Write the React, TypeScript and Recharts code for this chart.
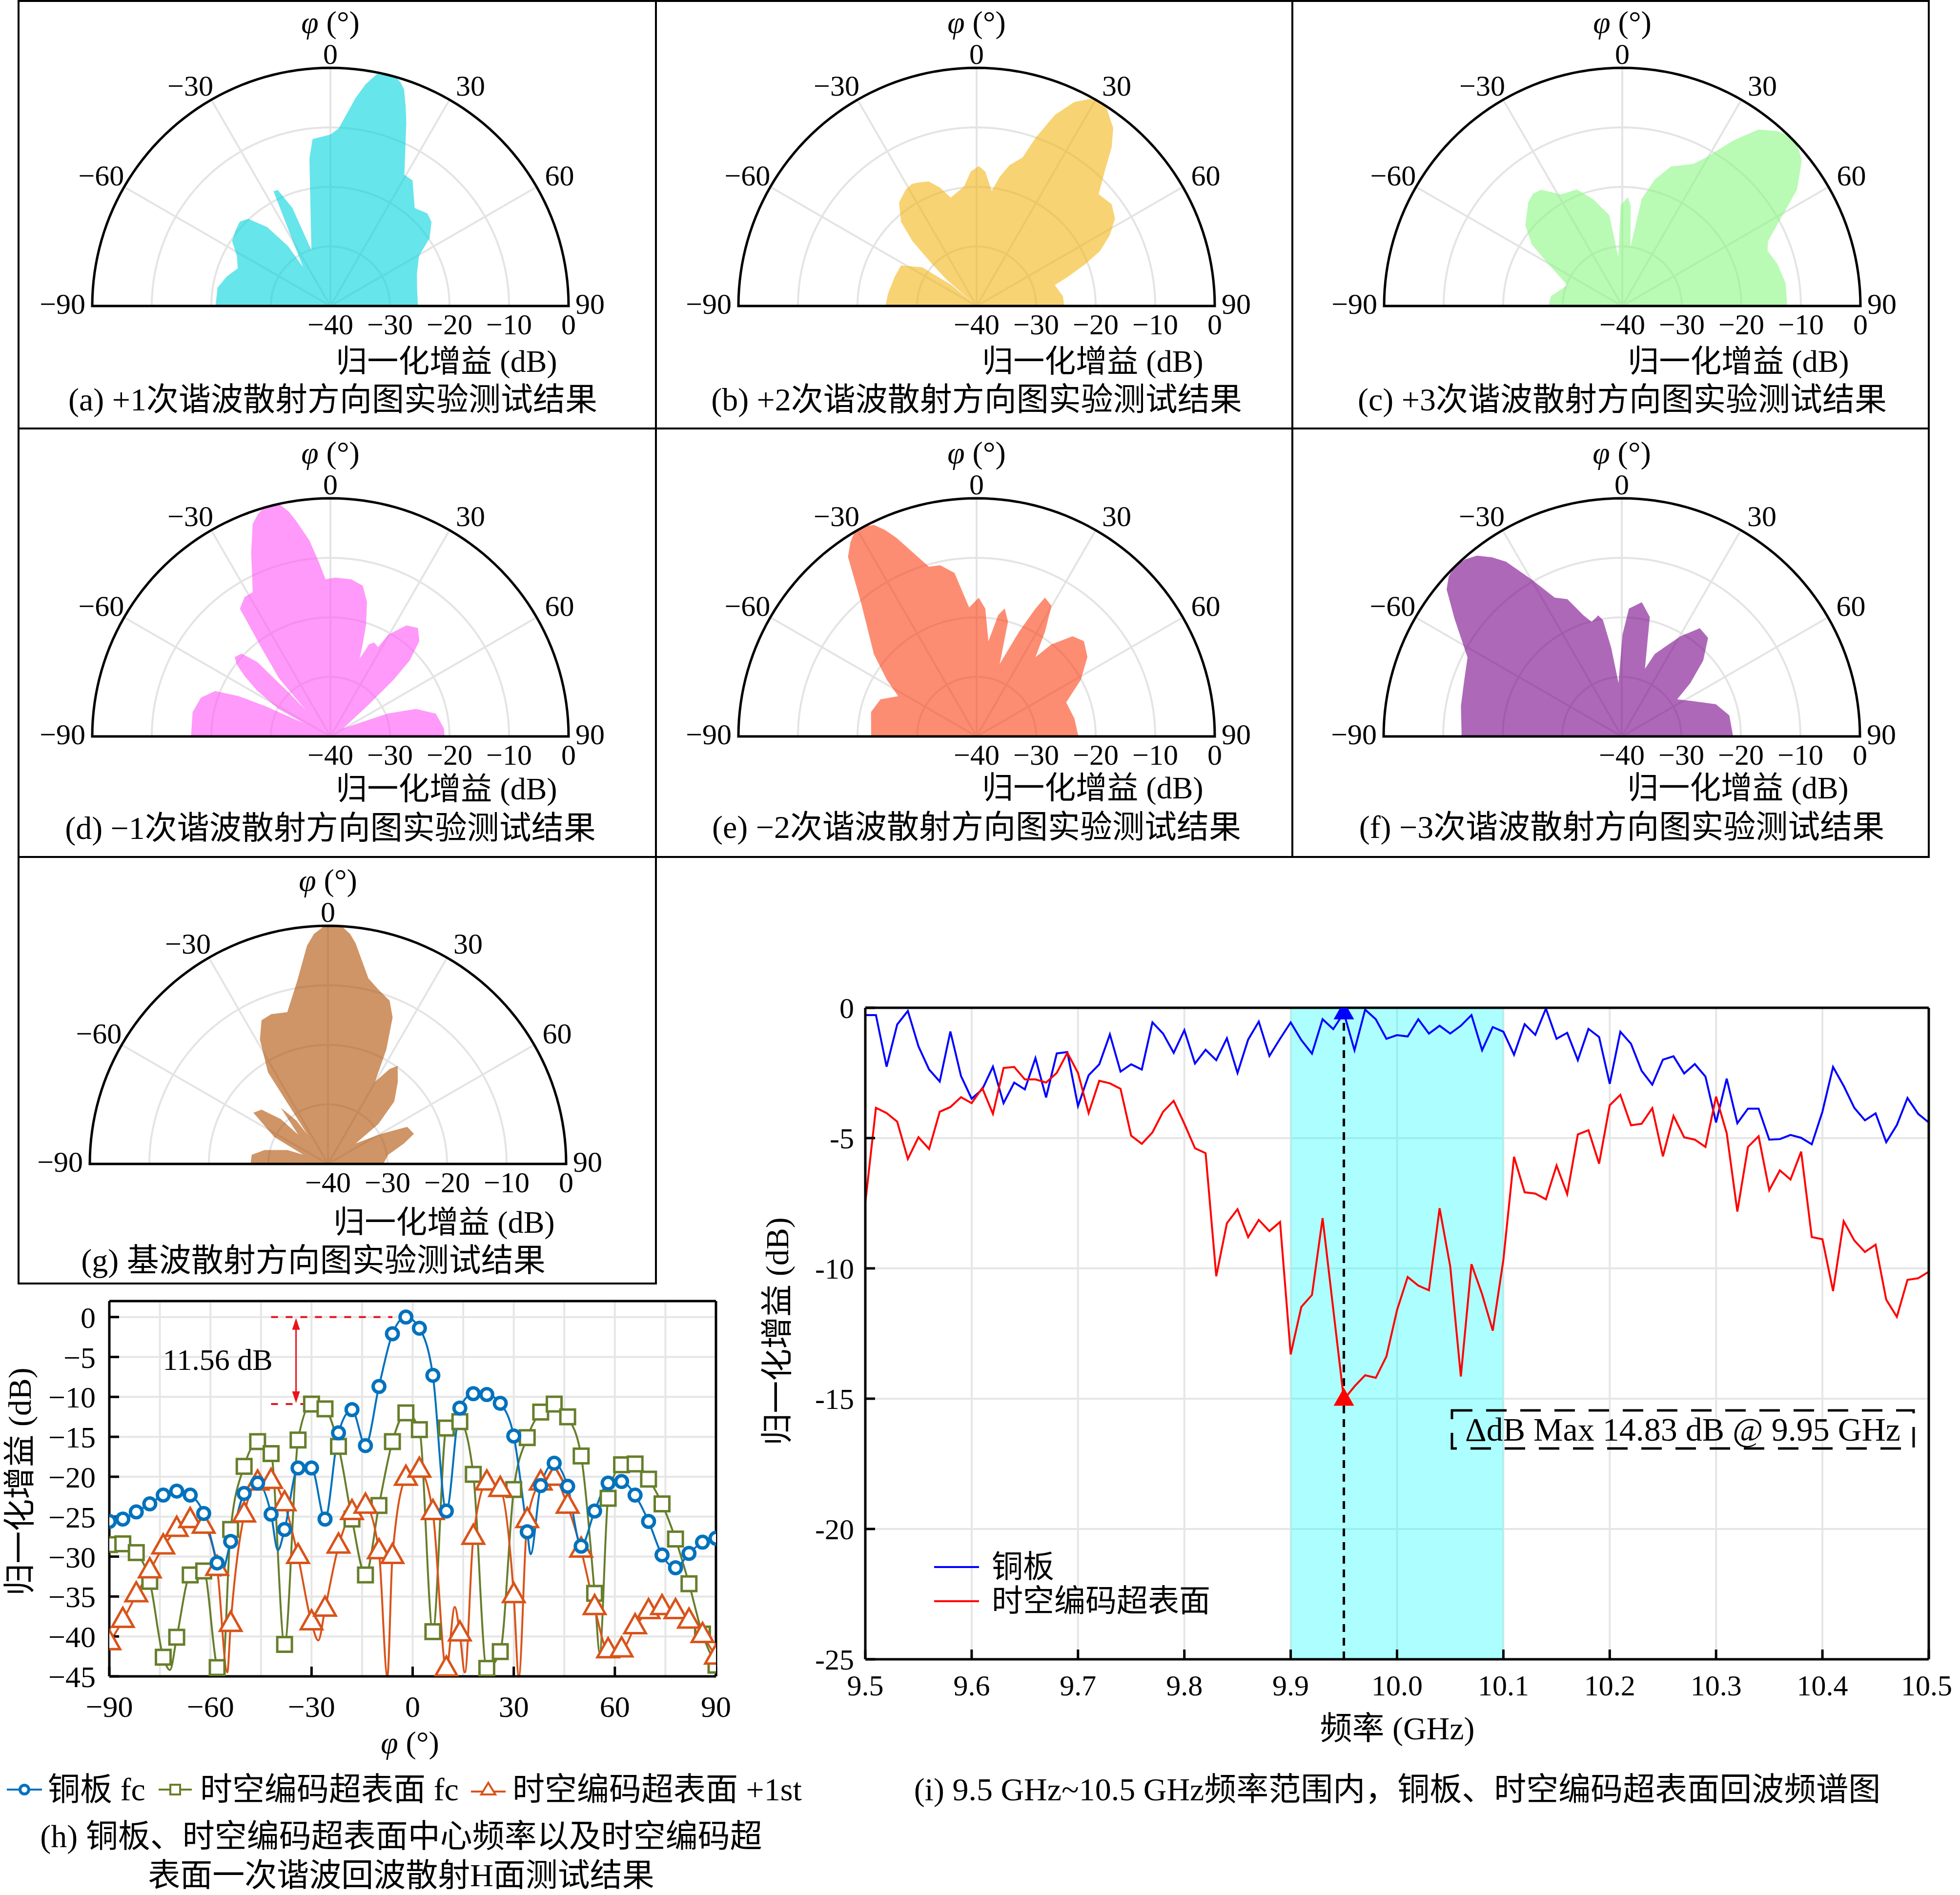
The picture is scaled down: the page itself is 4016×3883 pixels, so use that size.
import React from 'react';
import {
  RadarChart, Radar, PolarGrid, PolarAngleAxis, PolarRadiusAxis,
  LineChart, Line, XAxis, YAxis, CartesianGrid, ReferenceArea, ReferenceLine, ReferenceDot,
} from 'recharts';

const FONT = "'Liberation Serif','Noto Sans CJK SC',serif";

// ---------------- polar pattern data (angle in deg, normalized gain in dB) ----------------
const A_ANG = [-90, -80.7, -74.1, -67.9, -61.9, -56.5, -51.3, -47, -43.3, -38.7, -35.3, -35.1, -26.4, -24.4, -21.2, -18.8, -8.1, -6.1, 0, 2.7, 6.9, 9, 11.3, 13.5, 15.9, 17.5, 18.8, 20.6, 22.5, 29.4, 33.2, 40.7, 46.3, 50.2, 55.6, 60.5, 69.6, 79.8, 90];
const A_VAL = [-20.7, -20.8, -21.9, -23.2, -22.2, -20.2, -19.6, -19.2, -19.9, -23.0, -27.7, -32, -18.5, -18.6, -22.3, -30.1, -15, -11.8, -11.2, -10.1, -4.8, -2.3, -0.3, 0, 0, -0.7, -1.6, -4.1, -6.7, -14.7, -14.8, -18.3, -17.5, -17.9, -19.8, -22.9, -24.5, -25.2, -25.3];

const B_ANG = [-90, -81.7, -70.4, -61.8, -54.5, -50.2, -49.5, -48.5, -46.7, -44.7, -41.9, -36.9, -31.2, -28, -25, -21, -17.2, -13.4, -5.9, -2.5, 0.9, 3.7, 7.5, 10.2, 13.2, 17.2, 19.3, 22.3, 25.6, 28.8, 31, 33.4, 37.5, 40.4, 43.4, 47.5, 53, 57.7, 61.9, 66, 68.9, 72.3, 75, 83.6, 90];
const B_VAL = [-24.7, -25.0, -25.4, -25.6, -28.8, -34.5, -39, -33, -29.7, -24.7, -21.0, -18.3, -17.1, -16.8, -17.1, -17.6, -19.2, -21.3, -19.8, -17.4, -16.5, -17.4, -20.5, -17.9, -15.7, -13.9, -10.1, -5.3, -2.0, -0.3, 0, -0.3, -2.3, -5.0, -8.6, -12.2, -11.6, -12.5, -14.6, -17.3, -20.4, -23.9, -26.4, -25.4, -25.3];

const C_ANG = [-90, -82.2, -75.3, -69.1, -61.4, -55.8, -50.2, -42.2, -38.5, -34.9, -28.8, -21.3, -15.3, -8.1, -4.6, -0.9, 2.9, 4.8, 7.9, 10.3, 14.4, 19.2, 26.6, 29.5, 33.7, 37.6, 41.6, 43.8, 46.1, 48.5, 51, 56.3, 59.9, 66, 69.2, 74.8, 82.1, 90];
const C_VAL = [-27.6, -27.9, -29.3, -30.1, -26.4, -21.6, -18.8, -16.5, -15.9, -16.2, -18.6, -19.0, -21.4, -24.6, -31.8, -23.1, -21.7, -23.1, -30.1, -21.7, -18.1, -15.2, -13.3, -11.3, -6.7, -2.6, -0.7, -0.2, 0, -0.4, -1.2, -4.7, -8.5, -13.2, -13.9, -13.0, -12.3, -12.3];

const D_ANG = [-90, -80, -73.3, -68.5, -66.3, -65, -64.3, -63.5, -62, -58, -55, -52.5, -50.3, -47, -44.5, -43.5, -43, -41.5, -38, -35.3, -31.6, -28.3, -23.4, -20.1, -18, -16.2, -14, -12.2, -10.5, -9, -6.1, -3.7, -1.8, 1.8, 7.6, 12.1, 15.2, 17.7, 19.3, 20.6, 22.8, 25, 28, 29.7, 34.4, 38.9, 43, 46.2, 48.1, 50.4, 58, 64.8, 68.2, 72.2, 77.8, 85.9, 90];
const D_VAL = [-16.6, -16.5, -17.3, -19.2, -23.1, -28, -33, -35, -30, -25.5, -22.5, -20.2, -19.1, -19.6, -22.5, -30, -34, -27, -21.4, -13.7, -12.5, -12.5, -6.5, -2.0, -0.7, 0, 0, -0.2, -1.6, -3.4, -6.9, -10.8, -13.6, -13.3, -13.4, -14.1, -16.6, -20.3, -23.6, -26.1, -23.2, -22.6, -23, -20.3, -17.4, -16.6, -18.1, -21.5, -25.7, -31.9, -37.5, -34.9, -29.7, -24.9, -21.9, -20.9, -20.8];

const E_ANG = [-90, -77, -68.9, -62.8, -57.8, -51.3, -40.8, -35.6, -33, -30.8, -28.2, -25.9, -24, -22, -15.7, -12, -7.7, -3.3, 0.9, 3.9, 7.1, 10.1, 12.4, 15.3, 17.7, 22.1, 24.7, 26.2, 29.8, 33.1, 36.6, 39.1, 43.8, 48.4, 54.4, 61.5, 69.2, 79.7, 90];
const E_VAL = [-22.3, -21.8, -22.7, -25.2, -22.2, -17.9, -10.3, -2.9, -1.1, 0, 0, -0.5, -2.0, -4.0, -10.4, -10.6, -12.3, -18.3, -16.7, -18.5, -23.9, -19.3, -18.0, -20.0, -27.2, -21.0, -16.4, -14.0, -14.7, -18.9, -23.4, -20.1, -16.7, -15.9, -17.1, -20.1, -23.9, -23.3, -22.9];

const F_ANG = [-90, -79.2, -70.3, -62.9, -54.8, -50, -47.2, -44.6, -41.5, -38.7, -36, -33.5, -29.8, -25.8, -21.6, -17.5, -14.7, -11, -9.2, -6.8, -3.5, 0.4, 3.2, 8.5, 13.2, 18.9, 21.8, 25.6, 30.4, 35.8, 41.2, 47, 52.1, 56.2, 62.6, 71.1, 78.9, 90];
const F_VAL = [-13.1, -12.5, -11.9, -10.9, -5.6, -1.6, -0.4, 0, -0.3, -1.1, -2.8, -4.8, -9.7, -14.1, -15.2, -18.7, -20.1, -19.3, -20.2, -25.0, -31.0, -22.9, -18.5, -17.2, -19.4, -28.0, -25.1, -23.4, -20.5, -17.6, -18.0, -21.3, -25.4, -28.8, -27.0, -23.3, -21.6, -21.3];

const G_ANG = [-90, -83.2, -77.6, -71, -69.5, -63.3, -55.5, -50.7, -46.4, -45.5, -40, -36, -35, -33.2, -28.7, -24.8, -20.7, -15, -9.6, -5.5, -3.5, -1.2, 1, 3.5, 5.5, 7.1, 12.3, 16.1, 20.7, 23.8, 27, 29.8, 33, 35.4, 40.4, 46.7, 51.6, 53.5, 60.6, 64.9, 70.7, 75, 81.4, 90];
const G_VAL = [-27.0, -27.1, -29.1, -32.8, -35.6, -29.9, -24.8, -25.6, -29.1, -33, -27.7, -31, -34, -21.6, -16.2, -13.4, -13.1, -13.6, -8.9, -3.2, -1.3, -0.2, 0, -0.1, -1.2, -2.6, -8.1, -9.5, -10.7, -13.1, -18.4, -24.1, -21.0, -19.8, -21.9, -24.7, -29.2, -34.2, -29.7, -25.3, -24.7, -26.8, -29.8, -30.7];

const ANGLE_TICK_LABELS = [-90, -60, -30, 0, 30, 60, 90];
const RADIUS_TICKS = [-40, -30, -20, -10, 0];
// dense ticks only used to trace the outer semicircle outline
const OUTLINE_TICKS = Array.from({ length: 91 }, (_, i) => -90 + i * 2);

// ---------------- (h) H-plane data ----------------
const H_BLUE_X = [-90, -86, -82, -78, -74, -70, -66, -62, -58, -57, -54, -50, -46, -42, -40, -38, -34, -30, -26, -22, -18, -14, -10, -6, -2, 2, 6, 10, 14, 18, 22, 26, 30, 34, 35, 38, 42, 46, 50, 54, 58, 62, 66, 70, 74, 78, 82, 86, 90];
const H_BLUE_Y = [-25.6, -25.3, -24.4, -23.4, -22.3, -21.8, -22.3, -24.6, -30.8, -32.4, -28.1, -22.1, -20.8, -24.7, -29.2, -26.6, -18.9, -18.9, -25.3, -14.5, -11.6, -16.1, -8.7, -2.1, 0, -1.4, -7.3, -24.3, -11.4, -9.6, -9.7, -10.8, -14.9, -26.9, -29.7, -21.1, -18.3, -21.2, -28.7, -24.3, -20.8, -20.6, -22.3, -25.6, -29.8, -31.4, -29.6, -28.2, -27.7];
const H_OLIVE_X = [-90, -86, -82, -78, -74, -72, -70, -66, -62, -58, -56.5, -54, -50, -46, -42, -38, -34, -30, -26, -22, -18, -14, -10, -6, -2, 2, 6, 10, 14, 18, 22, 26, 30, 34, 38, 42, 46, 50, 54, 55.5, 58, 62, 66, 70, 74, 78, 82, 86, 90];
const H_OLIVE_Y = [-28.5, -28.4, -29.5, -33.1, -42.6, -44.2, -40.1, -32.3, -31.8, -43.9, -45, -26.6, -18.7, -15.6, -17.1, -41.0, -15.4, -10.9, -11.5, -16.2, -25.3, -32.3, -23.6, -15.6, -12.0, -14.1, -39.4, -13.9, -13.1, -19.7, -44.0, -41.9, -21.6, -15.1, -11.9, -10.9, -12.5, -17.4, -34.6, -42, -22.7, -18.5, -18.4, -20.3, -23.4, -27.8, -33.4, -39.7, -43.6];
const H_ORANGE_X = [-90, -86, -82, -78, -74, -70, -66, -62, -58, -55, -54, -50, -46, -42, -38, -34, -30, -28, -26, -22, -18, -14, -10, -7.5, -6, -2, 2, 6, 10, 12.5, 14, 15.5, 18, 22, 26, 30, 31.5, 34, 38, 42, 46, 50, 54, 58, 62, 66, 70, 74, 78, 82, 86, 90];
const H_ORANGE_Y = [-40.8, -38.0, -34.8, -31.8, -28.8, -26.6, -25.5, -26.2, -31.5, -44.5, -38.5, -24.8, -20.8, -20.6, -23.4, -30.0, -38.3, -40.5, -36.6, -28.7, -24.5, -23.7, -29.4, -45, -30.0, -20.2, -19.2, -24.5, -44.1, -36.3, -39.7, -44.5, -27.6, -20.8, -21.6, -34.9, -45, -25.5, -20.8, -20.2, -23.7, -29.2, -36.4, -41.8, -41.7, -38.8, -36.9, -36.4, -36.9, -38.1, -39.9, -42.6];
const H_X_TICKS = [-90, -60, -30, 0, 30, 60, 90];
const H_X_GRID = [-90, -75, -60, -45, -30, -15, 0, 15, 30, 45, 60, 75, 90];
const H_Y_TICKS = [0, -5, -10, -15, -20, -25, -30, -35, -40, -45];

// ---------------- (i) spectrum data ----------------
const I_FREQ = Array.from({ length: 101 }, (_, i) => +(9.5 + i * 0.01).toFixed(2));
const I_COPPER = [
  -0.28, -0.28, -2.26, -0.64, -0.12, -1.48, -2.37, -2.83, -0.91, -2.62,
  -3.49, -3.13, -2.26, -3.66, -2.87, -3.13, -1.93, -3.44, -1.75, -1.70,
  -3.77, -2.59, -2.17, -1.02, -2.45, -2.17, -2.37, -0.56, -0.99, -1.73,
  -0.86, -2.14, -1.61, -2.01, -1.17, -2.50, -1.22, -0.53, -1.85, -1.19,
  -0.56, -1.24, -1.76, -0.44, -0.82, -0.20, -1.63, -0.07, -0.44, -1.19,
  -1.05, -1.10, -0.44, -0.99, -0.69, -0.99, -0.69, -0.28, -1.63, -0.74,
  -0.92, -1.80, -0.63, -1.04, -0.03, -1.19, -0.96, -2.01, -0.81, -1.12,
  -2.92, -0.92, -1.38, -2.42, -2.95, -1.99, -1.86, -2.52, -2.16, -2.64,
  -4.40, -2.72, -4.43, -3.87, -3.87, -5.06, -5.04, -4.88, -4.99, -5.24,
  -3.99, -2.27, -3.00, -3.84, -4.32, -4.05, -5.16, -4.50, -3.46, -4.07, -4.40,
];
const I_META = [
  -7.48, -3.84, -4.04, -4.37, -5.80, -4.97, -5.42, -3.99, -3.81, -3.43,
  -3.66, -3.08, -4.07, -2.31, -2.27, -2.75, -2.75, -2.87, -2.50, -1.73,
  -2.50, -4.04, -2.80, -2.90, -3.11, -4.91, -5.22, -4.78, -3.99, -3.57,
  -4.45, -5.39, -5.58, -10.30, -8.27, -7.73, -8.80, -8.14, -8.57, -8.22,
  -13.30, -11.48, -11.02, -8.07, -11.56, -15.03, -14.53, -14.10, -14.20, -13.38,
  -11.60, -10.33, -10.66, -10.84, -7.69, -9.92, -14.15, -9.84, -10.99, -12.39,
  -9.67, -5.72, -7.08, -7.13, -7.35, -6.05, -7.15, -4.86, -4.70, -5.98,
  -3.74, -3.34, -4.51, -4.45, -3.85, -5.70, -4.15, -4.97, -5.06, -5.34,
  -3.41, -4.81, -7.82, -5.34, -4.93, -7.00, -6.24, -6.59, -5.52, -8.80,
  -8.88, -10.87, -8.19, -8.93, -9.37, -9.09, -11.20, -11.86, -10.44, -10.38, -10.13,
];
const I_X_TICKS = [9.5, 9.6, 9.7, 9.8, 9.9, 10.0, 10.1, 10.2, 10.3, 10.4, 10.5];
const I_Y_TICKS = [0, -5, -10, -15, -20, -25];
const I_BAND = [9.9, 10.1];
const I_PEAK_F = 9.95;

// ---------------- helpers ----------------
const R = 488;
const minus = (v: number) => (v < 0 ? '\u2212' + Math.abs(v) : String(v));

function T({ x, y, s = 66, a = 'middle', r = 0, children }: any) {
  const tx = a === 'middle' ? '-50%' : a === 'end' ? '-100%' : '0%';
  return (
    <div style={{ position: 'absolute', left: x, top: y, transform: `translate(${tx}, -50%)${r ? ` rotate(${r}deg)` : ''}`, fontSize: s, lineHeight: 1, whiteSpace: 'nowrap', color: '#000' }}>
      {children}
    </div>
  );
}

const Phi = () => (<><span style={{ fontStyle: 'italic' }}>φ</span> (°)</>);

function renderAngleTick(props: any) {
  const { x, y, payload } = props;
  const v = Number(payload.value);
  if (!ANGLE_TICK_LABELS.includes(v)) return <g />;
  const s = Math.sign(v);
  let dx = 0, dy = 0, anchor = 'middle';
  if (v === 0) dy = -21;
  else if (Math.abs(v) === 30) { dx = s * 39; dy = -22; }
  else if (Math.abs(v) === 60) { dx = s * 40; dy = -20; }
  else { dx = s * 6; dy = -5; anchor = v < 0 ? 'end' : 'start'; }
  return (
    <text x={x + dx} y={y + dy} dy="0.35em" textAnchor={anchor} fontSize={60} fontFamily={FONT} fill="#000">
      {minus(v)}
    </text>
  );
}

function renderRadiusTick(props: any) {
  const { x, y, payload } = props;
  return (
    <text x={x} y={y + 37} dy="0.35em" textAnchor="middle" fontSize={60} fontFamily={FONT} fill="#000">
      {minus(Number(payload.value))}
    </text>
  );
}

const SPOKES = ANGLE_TICK_LABELS.map((v) => 90 - v);

function PolarPanel({ p }: any) {
  const [bx, by, bw, bh] = p.box;
  const cx = p.c[0] - bx;
  const cy = p.c[1] - by;
  const data = p.ang.map((a: number, i: number) => ({ ang: a, val: p.val[i] }));
  return (
    <div style={{ position: 'absolute', left: bx, top: by, width: bw, height: bh }}>
      <RadarChart width={bw} height={bh} data={data} cx={cx} cy={cy} outerRadius={R} startAngle={180} endAngle={0} margin={{ top: 0, right: 0, bottom: 0, left: 0 }}>
        <PolarGrid gridType="polygon" radialLines={false} stroke="#e4e4e4" strokeWidth={4} />
        <PolarGrid gridType="polygon" polarAngles={SPOKES} polarRadius={[]} stroke="#e4e4e4" strokeWidth={4} />
        <Radar dataKey="val" stroke="none" fill={p.color} fillOpacity={0.6} isAnimationActive={false} />
        <PolarAngleAxis dataKey="ang" type="number" domain={[-90, 90]} ticks={OUTLINE_TICKS} tickSize={8} tickLine={false}
          axisLineType="polygon" axisLine={{ stroke: '#000', strokeWidth: 5, fill: 'none' }} tick={renderAngleTick} />
        <PolarRadiusAxis angle={0} type="number" domain={[-40, 0]} ticks={RADIUS_TICKS} axisLine={false} tickLine={false} tick={renderRadiusTick} allowDataOverflow />
      </RadarChart>
    </div>
  );
}

const PANELS = [
  { box: [38, 2, 1306, 876], c: [677, 627], ang: A_ANG, val: A_VAL, color: '#00d4de', cap: '(a) +1次谐波散射方向图实验测试结果', ly: 114, cyo: 192, cxo: 5 },
  { box: [1344, 2, 1304, 876], c: [2001, 627], ang: B_ANG, val: B_VAL, color: '#f3b617', cap: '(b) +2次谐波散射方向图实验测试结果', ly: 114, cyo: 192, cxo: 0 },
  { box: [2648, 2, 1304, 876], c: [3324, 627], ang: C_ANG, val: C_VAL, color: '#8af884', cap: '(c) +3次谐波散射方向图实验测试结果', ly: 114, cyo: 192, cxo: 0 },
  { box: [38, 878, 1306, 878], c: [677, 1509], ang: D_ANG, val: D_VAL, color: '#ff55f7', cap: '(d) \u22121次谐波散射方向图实验测试结果', ly: 108, cyo: 188, cxo: 0 },
  { box: [1344, 878, 1304, 878], c: [2001, 1509], ang: E_ANG, val: E_VAL, color: '#fc4114', cap: '(e) \u22122次谐波散射方向图实验测试结果', ly: 106, cyo: 186, cxo: 0 },
  { box: [2648, 878, 1304, 878], c: [3323, 1509], ang: F_ANG, val: F_VAL, color: '#760589', cap: '(f) \u22123次谐波散射方向图实验测试结果', ly: 106, cyo: 186, cxo: 0 },
  { box: [38, 1756, 1306, 874], c: [672, 2385], ang: G_ANG, val: G_VAL, color: '#af4e00', cap: '(g) 基波散射方向图实验测试结果', ly: 120, cyo: 198, cxo: -30 },
];

// ---------------- (h) chart ----------------
const HB = H_BLUE_X.map((x, i) => ({ x, y: H_BLUE_Y[i] }));
const HO = H_OLIVE_X.map((x, i) => ({ x, y: H_OLIVE_Y[i] }));
const HR = H_ORANGE_X.map((x, i) => ({ x, y: H_ORANGE_Y[i] }));
const isMarker = (x: number) => Number.isInteger(x) && (x + 90) % 4 === 0;

const C_BLUE = '#0072bd';
const C_OLIVE = '#677e2b';
const C_ORANGE = '#d95319';

const circleDot = (props: any) => {
  const { cx, cy, payload, index } = props;
  if (!isMarker(payload.x)) return <g key={'c' + index} />;
  return <circle key={'c' + index} cx={cx} cy={cy} r={12} fill="#fff" stroke={C_BLUE} strokeWidth={7} />;
};
const squareDot = (props: any) => {
  const { cx, cy, payload, index } = props;
  if (!isMarker(payload.x)) return <g key={'s' + index} />;
  return <rect key={'s' + index} x={cx - 15} y={cy - 15} width={30} height={30} fill="#fff" stroke={C_OLIVE} strokeWidth={5} />;
};
const triDotH = (props: any) => {
  const { cx, cy, payload, index } = props;
  if (!isMarker(payload.x)) return <g key={'t' + index} />;
  return <path key={'t' + index} d={`M${cx},${cy - 26} L${cx + 22},${cy + 13} L${cx - 22},${cy + 13} Z`} fill="#fff" stroke={C_ORANGE} strokeWidth={5} />;
};

const axisStroke = { stroke: '#000', strokeWidth: 5 };
const tickFont = { fontSize: 62, fill: '#000', fontFamily: FONT };

function ChartH() {
  return (
    <div style={{ position: 'absolute', left: 0, top: 2600 }}>
      <LineChart width={1560} height={960} margin={{ top: 56, right: 73, bottom: 45, left: 24 }}>
        <CartesianGrid xAxisId="b" yAxisId="l" stroke="#e6e6e6" strokeWidth={4} verticalValues={H_X_GRID} horizontalValues={H_Y_TICKS} />
        <XAxis xAxisId="b" type="number" dataKey="x" domain={[-90, 90]} ticks={H_X_TICKS} orientation="bottom" height={80}
          tickSize={-20} tickMargin={59} axisLine={axisStroke} tickLine={axisStroke} tick={tickFont} tickFormatter={minus} allowDataOverflow />
        <XAxis xAxisId="t" type="number" dataKey="x" domain={[-90, 90]} ticks={H_X_TICKS} orientation="top" height={10}
          tickSize={-20} axisLine={axisStroke} tickLine={axisStroke} tick={false} allowDataOverflow />
        <YAxis yAxisId="l" type="number" domain={[-45, 2]} ticks={H_Y_TICKS} width={200} tickSize={-20} tickMargin={48}
          axisLine={axisStroke} tickLine={axisStroke} tick={tickFont} tickFormatter={minus} allowDataOverflow />
        <YAxis yAxisId="r" orientation="right" type="number" domain={[-45, 2]} ticks={H_Y_TICKS} width={20} tickSize={-20}
          axisLine={axisStroke} tickLine={axisStroke} tick={false} allowDataOverflow />
        <ReferenceLine xAxisId="b" yAxisId="l" segment={[{ x: -42, y: 0 }, { x: -6, y: 0 }]} stroke="#e8141c" strokeWidth={4} strokeDasharray="14 16" />
        <ReferenceLine xAxisId="b" yAxisId="l" segment={[{ x: -42, y: -10.9 }, { x: -32.5, y: -10.9 }]} stroke="#e8141c" strokeWidth={4} strokeDasharray="14 16" />
        <ReferenceLine xAxisId="b" yAxisId="l" segment={[{ x: -34.6, y: -0.8 }, { x: -34.6, y: -10.1 }]} stroke="#e8141c" strokeWidth={3} />
        <ReferenceDot xAxisId="b" yAxisId="l" x={-34.6} y={0} shape={(pp: any) => <path d={`M${pp.cx},${pp.cy + 2} L${pp.cx + 8},${pp.cy + 26} L${pp.cx - 8},${pp.cy + 26} Z`} fill="#e8141c" />} />
        <ReferenceDot xAxisId="b" yAxisId="l" x={-34.6} y={-10.9} shape={(pp: any) => <path d={`M${pp.cx},${pp.cy - 2} L${pp.cx + 8},${pp.cy - 26} L${pp.cx - 8},${pp.cy - 26} Z`} fill="#e8141c" />} />
        <Line xAxisId="b" yAxisId="l" data={HO} dataKey="y" type="monotone" stroke={C_OLIVE} strokeWidth={4} dot={squareDot} activeDot={false} isAnimationActive={false} />
        <Line xAxisId="b" yAxisId="l" data={HR} dataKey="y" type="monotone" stroke={C_ORANGE} strokeWidth={4} dot={triDotH} activeDot={false} isAnimationActive={false} />
        <Line xAxisId="b" yAxisId="l" data={HB} dataKey="y" type="monotone" stroke={C_BLUE} strokeWidth={4} dot={circleDot} activeDot={false} isAnimationActive={false} />
      </LineChart>
    </div>
  );
}

// ---------------- (i) chart ----------------
const I_DATA = I_FREQ.map((x, i) => ({ x, cu: I_COPPER[i], meta: I_META[i] }));
const triDotI = (color: string) => (props: any) => {
  const { cx, cy, payload, index } = props;
  if (payload.x !== I_PEAK_F) return <g key={color + index} />;
  return <path key={color + index} d={`M${cx},${cy - 24} L${cx + 21},${cy + 13} L${cx - 21},${cy + 13} Z`} fill={color} />;
};

function ChartI() {
  return (
    <div style={{ position: 'absolute', left: 1560, top: 2000 }}>
      <LineChart data={I_DATA} width={2440} height={1500} margin={{ top: 55, right: 38, bottom: 20, left: 53 }}>
        <ReferenceArea xAxisId="b" yAxisId="l" x1={I_BAND[0]} x2={I_BAND[1]} fill="#00ffff" fillOpacity={0.32} stroke="none" />
        <CartesianGrid xAxisId="b" yAxisId="l" stroke="#e6e6e6" strokeWidth={4} />
        <XAxis xAxisId="b" type="number" dataKey="x" domain={[9.5, 10.5]} ticks={I_X_TICKS} orientation="bottom" height={80}
          tickSize={-20} tickMargin={51} axisLine={axisStroke} tickLine={axisStroke} tick={{ ...tickFont, fontSize: 60 }}
          tickFormatter={(v: number) => v.toFixed(1)} allowDataOverflow />
        <XAxis xAxisId="t" type="number" dataKey="x" domain={[9.5, 10.5]} ticks={I_X_TICKS} orientation="top" height={10}
          tickSize={-20} axisLine={axisStroke} tickLine={axisStroke} tick={false} allowDataOverflow />
        <YAxis yAxisId="l" type="number" domain={[-25, 0]} ticks={I_Y_TICKS} width={160} tickSize={-20} tickMargin={43}
          axisLine={axisStroke} tickLine={axisStroke} tick={{ ...tickFont, fontSize: 60 }} tickFormatter={(v: number) => String(v)} allowDataOverflow />
        <YAxis yAxisId="r" orientation="right" type="number" domain={[-25, 0]} ticks={I_Y_TICKS} width={10} tickSize={-20}
          axisLine={axisStroke} tickLine={axisStroke} tick={false} allowDataOverflow />
        <ReferenceLine xAxisId="b" yAxisId="l" x={I_PEAK_F} stroke="#000" strokeWidth={5} strokeDasharray="16 12" />
        <Line xAxisId="b" yAxisId="l" dataKey="cu" type="linear" stroke="#0000ff" strokeWidth={4} dot={triDotI('#0000ff')} activeDot={false} isAnimationActive={false} />
        <Line xAxisId="b" yAxisId="l" dataKey="meta" type="linear" stroke="#ff0000" strokeWidth={4} dot={triDotI('#ff0000')} activeDot={false} isAnimationActive={false} />
      </LineChart>
    </div>
  );
}

function HLine({ x, y, w, h = 4 }: any) {
  return <div style={{ position: 'absolute', left: x, top: y, width: w, height: h, background: '#000' }} />;
}
function VLine({ x, y, h, w = 4 }: any) {
  return <div style={{ position: 'absolute', left: x, top: y, width: w, height: h, background: '#000' }} />;
}

export default function App() {
  return (
    <div style={{ position: 'absolute', left: 0, top: 0, width: 4016, height: 3883, background: '#fff', fontFamily: FONT, overflow: 'hidden' }}>
      {PANELS.map((p, i) => (
        <React.Fragment key={i}>
          <PolarPanel p={p} />
          <T x={p.c[0]} y={p.c[1] - 581} s={64}><Phi /></T>
          <T x={p.c[0] + 238} y={p.c[1] + p.ly} s={64}>归一化增益 (dB)</T>
          <T x={p.c[0] + p.cxo} y={p.c[1] + p.cyo}>{p.cap}</T>
        </React.Fragment>
      ))}
      {/* panel frames */}
      <HLine x={38} y={0} w={3916} />
      <HLine x={38} y={876} w={3916} />
      <HLine x={38} y={1754} w={3916} />
      <HLine x={38} y={2628} w={1308} />
      <VLine x={36} y={0} h={2632} />
      <VLine x={1342} y={0} h={2632} />
      <VLine x={2646} y={0} h={1758} />
      <VLine x={3950} y={0} h={1758} />

      <ChartH />
      <T x={446} y={2786} s={62}>11.56 dB</T>
      <T x={41} y={3036} r={-90}>归一化增益 (dB)</T>
      <T x={840} y={3571} s={64}><Phi /></T>
      {/* (h) legend */}
      <svg style={{ position: 'absolute', left: 14, top: 3647 }} width={72} height={40}>
        <line x1={0} y1={20} x2={72} y2={20} stroke={C_BLUE} strokeWidth={4} />
        <circle cx={36} cy={20} r={9} fill="#fff" stroke={C_BLUE} strokeWidth={6} />
      </svg>
      <T x={98} y={3667} a="start">铜板 fc</T>
      <svg style={{ position: 'absolute', left: 325, top: 3647 }} width={68} height={40}>
        <line x1={0} y1={20} x2={68} y2={20} stroke={C_OLIVE} strokeWidth={4} />
        <rect x={24} y={10} width={20} height={20} fill="#fff" stroke={C_OLIVE} strokeWidth={4} />
      </svg>
      <T x={410} y={3667} a="start">时空编码超表面 fc</T>
      <svg style={{ position: 'absolute', left: 965, top: 3645 }} width={71} height={44}>
        <line x1={0} y1={26} x2={71} y2={26} stroke={C_ORANGE} strokeWidth={4} />
        <path d="M35.5,8 L50,32 L21,32 Z" fill="#fff" stroke={C_ORANGE} strokeWidth={4} />
      </svg>
      <T x={1050} y={3667} a="start">时空编码超表面 +1st</T>
      <T x={822} y={3763}>(h) 铜板、时空编码超表面中心频率以及时空编码超</T>
      <T x={822} y={3843}>表面一次谐波回波散射H面测试结果</T>

      <ChartI />
      <T x={1593} y={2728} r={-90}>归一化增益 (dB)</T>
      <T x={2863} y={3542}>频率 (GHz)</T>
      <T x={2863} y={3667}>(i)  9.5 GHz~10.5 GHz频率范围内，铜板、时空编码超表面回波频谱图</T>
      {/* (i) legend */}
      <svg style={{ position: 'absolute', left: 1914, top: 3201 }} width={92} height={90}>
        <line x1={0} y1={10} x2={92} y2={10} stroke="#0000ff" strokeWidth={4} />
        <line x1={0} y1={80} x2={92} y2={80} stroke="#ff0000" strokeWidth={4} />
      </svg>
      <T x={2032} y={3211} a="start" s={64}>铜板</T>
      <T x={2032} y={3281} a="start" s={64}>时空编码超表面</T>
      {/* (i) annotation box */}
      <svg style={{ position: 'absolute', left: 2972, top: 2887 }} width={954} height={86}>
        <rect x={3} y={3} width={946} height={78} fill="none" stroke="#000" strokeWidth={5} strokeDasharray="42 28" />
      </svg>
      <T x={3448} y={2929} s={68}>ΔdB Max 14.83 dB @ 9.95 GHz</T>
    </div>
  );
}
